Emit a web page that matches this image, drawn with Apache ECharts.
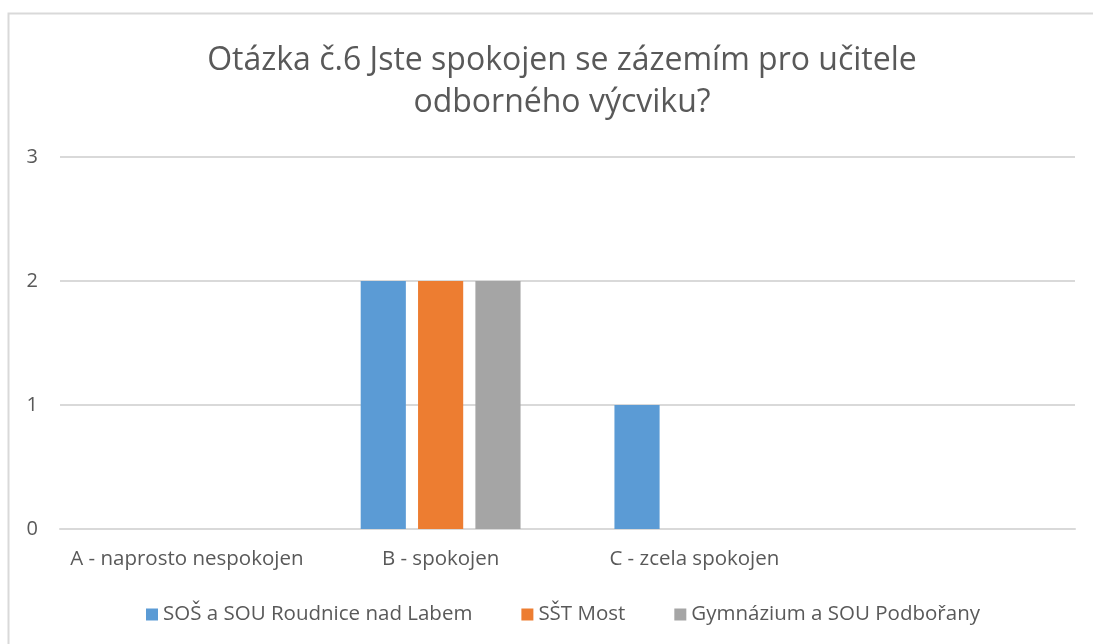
<!DOCTYPE html>
<html>
<head>
<meta charset="utf-8">
<script src="https://cdn.jsdelivr.net/npm/echarts@6/dist/echarts.min.js"></script>
<style>
html, body { margin: 0; padding: 0; background: #fff; }
#chart { width: 1093px; height: 644px; }
</style>
</head>
<body>
<div id="chart"></div>
<script>
// data
const categories = ['A - naprosto nespokojen', 'B - spokojen', 'C - zcela spokojen', '']
const roudnice = [0, 2, 1, 0]
const most = [0, 2, 0, 0]
const podborany = [0, 2, 0, 0]
const seriesNames = ['SOŠ a SOU Roudnice nad Labem', 'SŠT Most', 'Gymnázium a SOU Podbořany']
const colors = ['#5b9bd5', '#ed7d31', '#a5a5a5']

const myChart = echarts.init(document.getElementById('chart'))
const font = 'Open Sans'
const option = {
    animation: false,
    color: colors,
    graphic: [
        // chart area border (top + left visible)
        {
            type: 'polyline',
            shape: { points: [[8.5, 700], [8.5, 13.5], [1200, 13.5]] },
            style: { stroke: '#d9d9d9', lineWidth: 2, fill: null }
        }
    ],
    title: {
        text: 'Otázka č.6 Jste spokojen se zázemím pro učitele\nodborného výcviku?',
        left: 557,
        textAlign: 'center',
        top: 35,
        textStyle: {
            fontFamily: font,
            fontSize: 32,
            fontWeight: 'normal',
            color: '#595959',
            lineHeight: 42
        }
    },
    legend: {
        bottom: 14,
        left: 141,
        icon: 'rect',
        itemWidth: 12,
        itemHeight: 12,
        itemGap: 49,
        textStyle: { fontFamily: font, fontSize: 20.5, color: '#595959' },
        data: seriesNames
    },
    grid: { left: 60, right: 18, top: 157, bottom: 115 },
    xAxis: {
        type: 'category',
        data: categories,
        axisLine: { lineStyle: { color: '#d9d9d9', width: 2 } },
        axisTick: { show: false },
        axisLabel: { interval: 0, fontFamily: font, fontSize: 20.5, color: '#595959', margin: 20 }
    },
    yAxis: {
        type: 'value',
        min: 0,
        max: 3,
        interval: 1,
        axisLine: { show: false },
        axisTick: { show: false },
        axisLabel: { fontFamily: font, fontSize: 20, color: '#595959', margin: 22 },
        splitLine: { lineStyle: { color: '#d9d9d9', width: 2 } }
    },
    series: [
        { name: seriesNames[0], type: 'bar', data: roudnice, barGap: '27%', barCategoryGap: '37%' },
        { name: seriesNames[1], type: 'bar', data: most, barGap: '27%', barCategoryGap: '37%' },
        { name: seriesNames[2], type: 'bar', data: podborany, barGap: '27%', barCategoryGap: '37%' }
    ]
}
myChart.setOption(option)
window.addEventListener('resize', function () {
    myChart.resize()
})
</script>
</body>
</html>
